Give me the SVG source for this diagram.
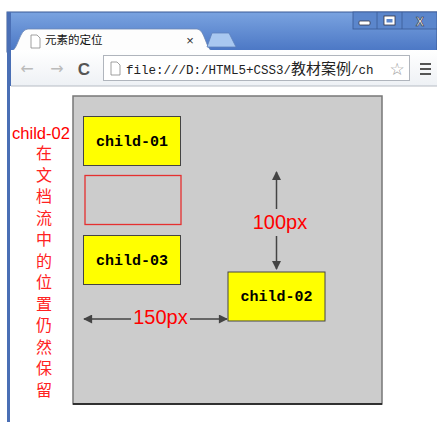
<svg xmlns="http://www.w3.org/2000/svg" width="437" height="422" viewBox="0 0 437 422">
<style>
.box{fill:#ffff00;stroke:#444;stroke-width:1}
.btxt{font-family:"Liberation Mono","DejaVu Sans Mono",monospace;font-size:15px;font-weight:bold;fill:#000;text-anchor:middle}
.red{font-family:"Liberation Sans","Noto Sans CJK SC",sans-serif;fill:#ff0000}
.cjk{font-family:"Noto Sans CJK SC",sans-serif;font-size:16px;fill:#ff2222}
.arr{stroke:#444;stroke-width:1.5;fill:none}
</style>
<defs>
<linearGradient id="bar" x1="0" y1="0" x2="0" y2="1">
<stop offset="0" stop-color="#7aa3e0"/><stop offset="1" stop-color="#4a76c4"/>
</linearGradient>
<linearGradient id="tool" x1="0" y1="0" x2="0" y2="1">
<stop offset="0" stop-color="#ffffff"/><stop offset="1" stop-color="#eef1f5"/>
</linearGradient>
<marker id="ah" viewBox="0 0 10 10" refX="9" refY="5" markerWidth="10" markerHeight="9" markerUnits="userSpaceOnUse" orient="auto-start-reverse">
<path d="M0,0 L10,5 L0,10 z" fill="#444"/>
</marker>
</defs>
<rect width="437" height="422" fill="#fff"/>
<!-- browser chrome -->
<g id="chrome">
<rect x="7" y="12" width="430" height="40" fill="url(#bar)" stroke="#3a5a96" stroke-width="1"/>
<rect x="7" y="12" width="4" height="410" fill="#4a6fb5"/>
<rect x="10" y="86" width="427" height="336" fill="#fff"/>
<path d="M11,51 C18,51 19,29 28,29 L197,29 C205,29 206,51 213,51 Z" fill="#fdfdfd" stroke="#6b86b5" stroke-width="0.8"/>
<path d="M207,47 L212,33 L229,33 L236,47 Z" fill="#a9c8f0" stroke="#5d80bb" stroke-width="0.8"/>
<rect x="11" y="50" width="426" height="36" fill="url(#tool)"/>
<line x1="11" y1="86" x2="437" y2="86" stroke="#b7bcc4" stroke-width="1"/>
<path d="M31,35 h6 l3,3 v10 h-9 z" fill="#fff" stroke="#888" stroke-width="0.8"/>
<text x="45" y="44" font-family="Noto Sans CJK SC,sans-serif" font-size="11.5" fill="#111">元素的定位</text>
<text x="190" y="45" font-family="Liberation Sans,sans-serif" font-size="13" fill="#333" text-anchor="middle">×</text>
<rect x="353" y="12" width="84" height="17" fill="#5b86cc" stroke="#3a5a96" stroke-width="0.8"/>
<line x1="377" y1="12" x2="377" y2="29" stroke="#3a5a96" stroke-width="0.8"/>
<line x1="402" y1="12" x2="402" y2="29" stroke="#3a5a96" stroke-width="0.8"/>
<rect x="359" y="21" width="11" height="4" rx="1" fill="#fff" stroke="#334" stroke-width="0.8"/>
<rect x="384" y="16" width="11" height="9" fill="#fff" stroke="#334" stroke-width="0.8"/>
<rect x="386.5" y="19" width="6" height="3.5" fill="#5b86cc"/>
<text x="420" y="26" font-family="Liberation Sans,sans-serif" font-size="12" font-weight="bold" fill="#fff" stroke="#334" stroke-width="0.6" text-anchor="middle">X</text>
<text x="27" y="74" font-family="DejaVu Sans,sans-serif" font-size="16" fill="#bbb" text-anchor="middle">←</text>
<text x="57" y="74" font-family="DejaVu Sans,sans-serif" font-size="16" fill="#bbb" text-anchor="middle">→</text>
<text x="84" y="75" font-family="Liberation Sans,sans-serif" font-size="17" font-weight="bold" fill="#555" text-anchor="middle">C</text>
<rect x="103.5" y="55.5" width="306" height="25" fill="#fff" stroke="#b0b5bd" stroke-width="1"/>
<path d="M111,62 h6 l3,3 v10 h-9 z" fill="#fff" stroke="#888" stroke-width="0.8"/>
<text x="126" y="74" font-family="Liberation Mono,monospace" font-size="12.5" fill="#222">file:///D:/HTML5+CSS3/<tspan font-family="Noto Sans CJK SC,sans-serif" font-size="15">教材案例</tspan>/ch</text>
<rect x="388" y="57" width="21" height="23" fill="#fff"/>
<text x="397" y="75" font-family="DejaVu Sans,sans-serif" font-size="17" fill="#999" text-anchor="middle">☆</text>
<g fill="#555"><rect x="420" y="63" width="11" height="2"/><rect x="420" y="68" width="11" height="2"/><rect x="420" y="73" width="11" height="2"/></g>
</g>
<!-- container -->
<g id="container">
<rect x="73" y="96" width="309" height="308" fill="#cccccc" stroke="#777" stroke-width="1.5"/>
<line x1="73" y1="404" x2="382" y2="404" stroke="#111" stroke-width="1.5"/>
</g>
<g id="child-01">
<rect class="box" x="83.5" y="116.5" width="97" height="49"/>
<text class="btxt" x="132" y="146">child-01</text>
</g>
<g id="placeholder">
<rect x="85" y="175.5" width="96" height="49" fill="none" stroke="#e53030" stroke-width="1.3"/>
</g>
<g id="child-03">
<rect class="box" x="83.5" y="235.5" width="97" height="49"/>
<text class="btxt" x="132" y="265">child-03</text>
</g>
<g id="child-02">
<rect class="box" x="228" y="272" width="97" height="49"/>
<text class="btxt" x="276.5" y="301">child-02</text>
</g>
<g id="connectors">
<line class="arr" x1="276.5" y1="209" x2="276.5" y2="172" marker-end="url(#ah)"/>
<line class="arr" x1="276.5" y1="236" x2="276.5" y2="269" marker-end="url(#ah)"/>
<line class="arr" x1="131" y1="319" x2="84" y2="319" marker-end="url(#ah)"/>
<line class="arr" x1="190" y1="319" x2="227" y2="319" marker-end="url(#ah)"/>
</g>
<g id="labels">
<text class="red" x="280" y="229" font-size="20" text-anchor="middle">100px</text>
<text class="red" x="160.5" y="324" font-size="20" text-anchor="middle">150px</text>
<text class="red" x="41" y="139" font-size="16.5" text-anchor="middle" textLength="58" lengthAdjust="spacingAndGlyphs">child-02</text>
<text class="cjk" x="44" y="145" writing-mode="vertical-rl" letter-spacing="5.5">在文档流中的位置仍然保留</text>
</g>
</svg>
